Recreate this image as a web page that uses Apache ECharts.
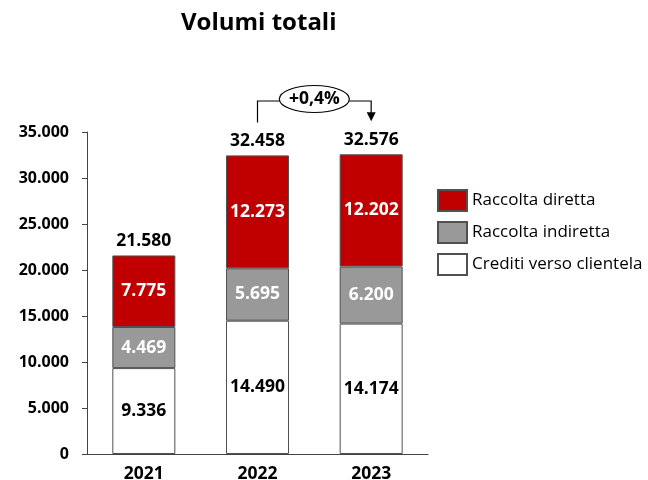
<!DOCTYPE html>
<html>
<head>
<meta charset="utf-8">
<script src="https://cdn.jsdelivr.net/npm/echarts@6/dist/echarts.min.js"></script>
<style>
  html, body { margin: 0; padding: 0; background: #fff; }
</style>
</head>
<body>
<div id="main" style="width: 648px;height:480px;"></div>
<script>
var years = ['2021', '2022', '2023']
var crediti = [9336, 14490, 14174]
var indiretta = [4469, 5695, 6200]
var diretta = [7775, 12273, 12202]
var totali = [21580, 32458, 32576]
var variazione = '+0,4%'

var font = 'Open Sans'

// separatore migliaia con il punto
function fmt (v) {
  return String(v).replace(/\B(?=(\d{3})+(?!\d))/g, '.')
}

var myChart = echarts.init(document.getElementById('main'))

function barSeries (name, data, color, labelColor) {
  return {
    name: name,
    type: 'bar',
    stack: 'tot',
    data: data,
    barWidth: 63,
    itemStyle: { color: color, borderColor: '#505050', borderWidth: 1 },
    label: {
      show: true,
      position: 'inside',
      color: labelColor,
      fontFamily: font,
      fontWeight: 'bold',
      fontSize: 17.5,
      formatter: function (p) { return fmt(p.value) }
    }
  }
}

var option = {
  animation: false,
  title: {
    text: 'Volumi totali',
    left: 176,
    top: 6,
    textStyle: { fontFamily: font, fontWeight: 'bold', fontSize: 24, color: '#000' }
  },
  legend: {
    data: ['Raccolta diretta', 'Raccolta indiretta', 'Crediti verso clientela'],
    orient: 'vertical',
    left: 432,
    top: 184,
    icon: 'rect',
    itemWidth: 29,
    itemHeight: 21,
    itemGap: 9,
    selectedMode: false,
    textStyle: { fontFamily: font, fontSize: 17, color: '#000' }
  },
  grid: { left: 87, right: 220, top: 132, bottom: 26, outerBoundsMode: 'none' },
  xAxis: {
    type: 'category',
    data: years,
    axisLine: { lineStyle: { color: '#444', width: 1 } },
    axisTick: { show: false },
    axisLabel: { color: '#000', fontFamily: font, fontWeight: 'bold', fontSize: 17.5, margin: 11 }
  },
  yAxis: {
    type: 'value',
    min: 0,
    max: 35000,
    interval: 5000,
    splitLine: { show: false },
    axisLine: { show: true, lineStyle: { color: '#444', width: 1 } },
    axisTick: { show: true, length: 5, lineStyle: { color: '#444' } },
    axisLabel: {
      color: '#000', fontFamily: font, fontWeight: 'bold', fontSize: 16, margin: 18,
      formatter: function (v) { return fmt(v) }
    }
  },
  series: [
    barSeries('Crediti verso clientela', crediti, '#ffffff', '#000'),
    barSeries('Raccolta indiretta', indiretta, '#999999', '#fff'),
    barSeries('Raccolta diretta', diretta, '#c00000', '#fff'),
    {
      name: 'Totale',
      type: 'scatter',
      data: totali,
      symbolSize: 0,
      silent: true,
      itemStyle: { opacity: 1 },
      label: {
        show: true,
        position: 'top',
        distance: 5,
        color: '#000',
        fontFamily: font,
        fontWeight: 'bold',
        fontSize: 17.5,
        formatter: function (p) { return fmt(p.value) }
      }
    }
  ]
}
myChart.setOption(option)

// freccia della variazione tra 2022 e 2023
var p1 = myChart.convertToPixel({ gridIndex: 0 }, ['2022', totali[1]])
var p2 = myChart.convertToPixel({ gridIndex: 0 }, ['2023', totali[2]])
var yTop = 101
var cx = (p1[0] + p2[0]) / 2
var rx = 35
myChart.setOption({
  graphic: [
    {
      type: 'polyline',
      shape: { points: [[p1[0], p1[1] - 33], [p1[0], yTop], [cx - rx, yTop]] },
      style: { stroke: '#000', lineWidth: 1.2, fill: null }
    },
    {
      type: 'polyline',
      shape: { points: [[cx + rx, yTop], [p2[0], yTop], [p2[0], p2[1] - 40]] },
      style: { stroke: '#000', lineWidth: 1.2, fill: null }
    },
    {
      type: 'polygon',
      shape: { points: [[p2[0] - 4.5, p2[1] - 42], [p2[0] + 4.5, p2[1] - 42], [p2[0], p2[1] - 33]] },
      style: { fill: '#000' }
    },
    {
      type: 'ellipse',
      shape: { cx: cx, cy: 99, rx: rx, ry: 13.5 },
      style: { fill: '#fff', stroke: '#000', lineWidth: 1.2 }
    },
    {
      type: 'text',
      x: cx,
      y: 99,
      style: {
        text: variazione,
        align: 'center',
        verticalAlign: 'middle',
        fontFamily: font,
        fontWeight: 'bold',
        fontSize: 17.5,
        fill: '#000'
      }
    }
  ]
})
</script>
</body>
</html>
